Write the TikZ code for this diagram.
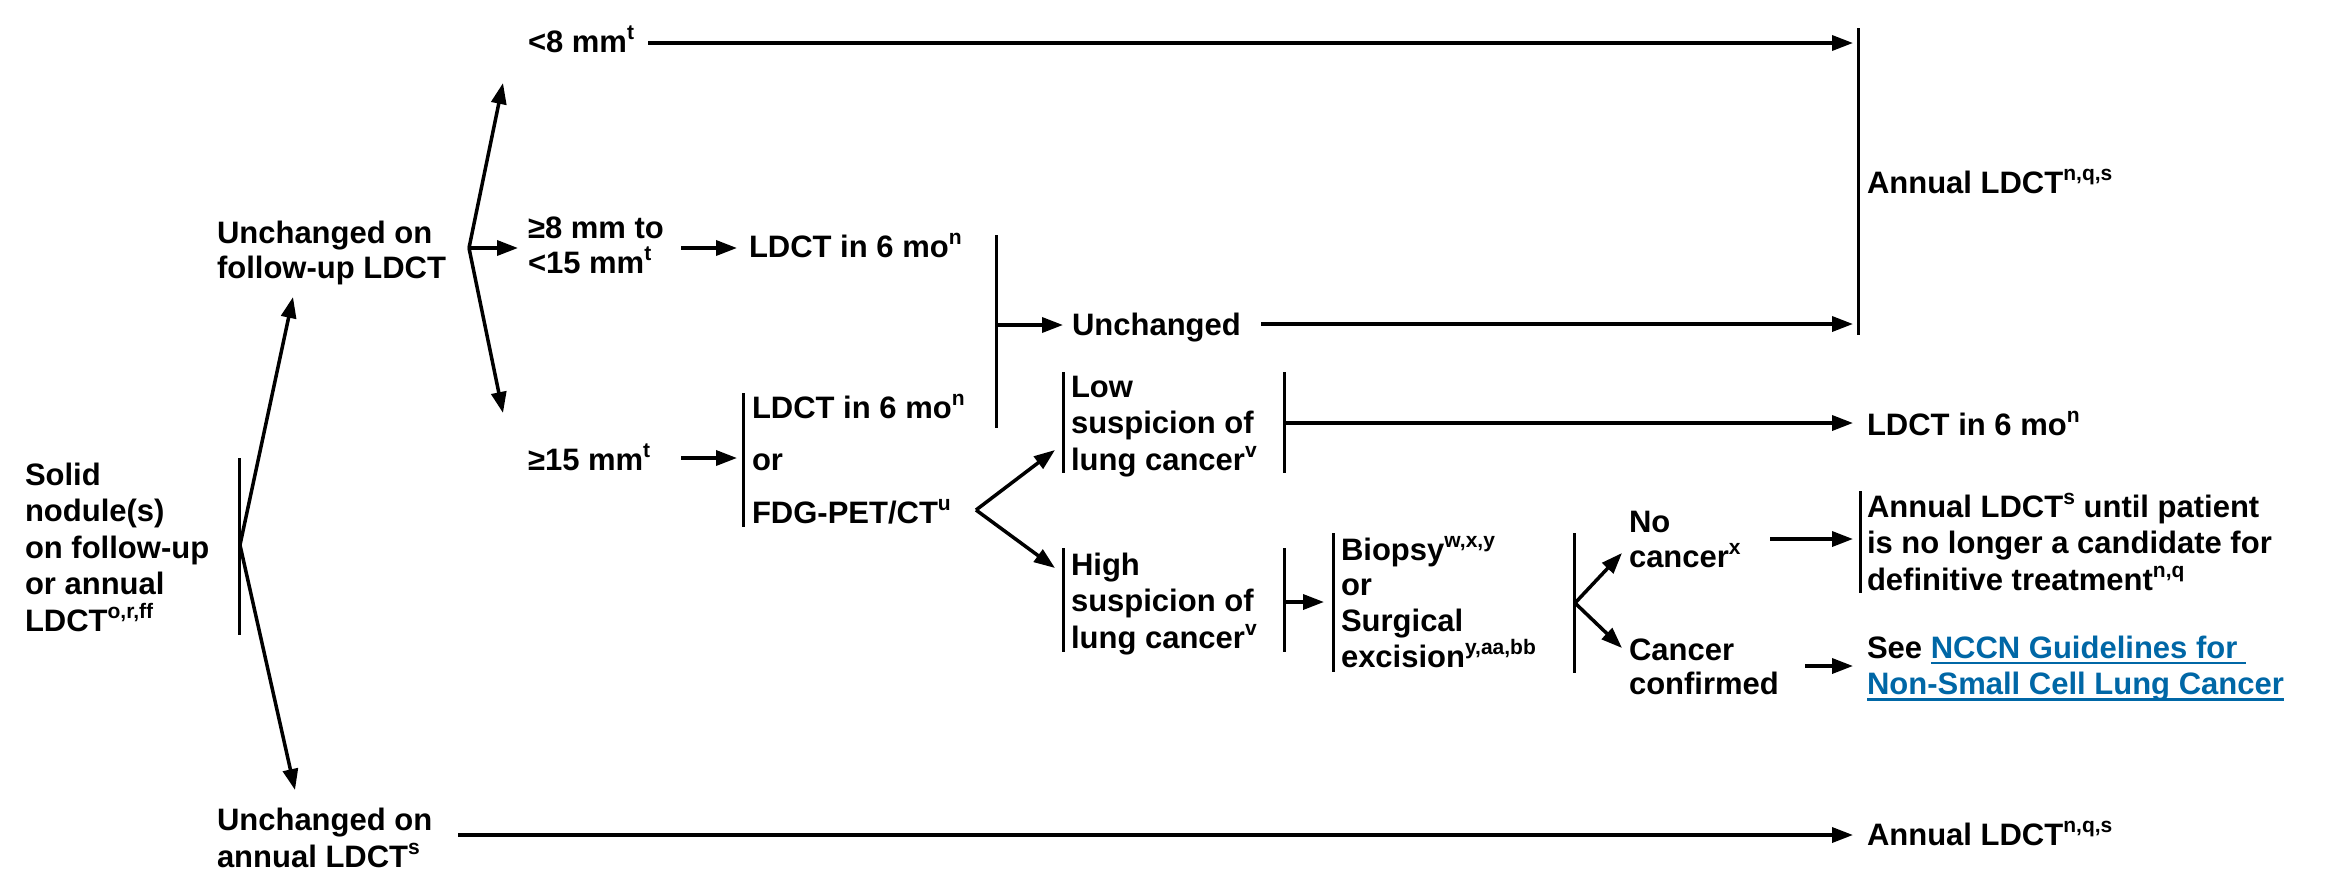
\documentclass[tikz,border=0pt]{standalone}
\usepackage{fontspec}
\setmainfont{Liberation Sans}
\usetikzlibrary{arrows.meta}
\definecolor{nccnblue}{RGB}{0,103,166}
\newcommand\fs{\fontsize{31}{36.5}\selectfont\bfseries}
\newcommand\sups[1]{\smash{\raisebox{13pt}{\fontsize{21}{21}\selectfont #1}}}
\newcommand\lnk[1]{\setbox0\hbox{#1}\rlap{\rule[-6pt]{\wd0}{2.5pt}}\box0}
\newcommand\tl[1]{\begin{tabular}[t]{@{}l@{}}#1\end{tabular}}
\begin{document}
\begin{tikzpicture}[x=1pt,y=-1pt,
  txt/.style={anchor=base west,inner sep=0pt,outer sep=0pt,font=\fs},
  bar/.style={line width=3pt},
  arr/.style={line width=3.5pt,-{Triangle[length=21pt,width=15pt]}},
  ln/.style={line width=3.5pt}]
\useasboundingbox (0,0) rectangle (2334,889);

% text nodes
\node[txt] (solid) at (25,485) {\tl{Solid\\nodule(s)\\on follow-up\\or annual\\LDCT\sups{o,r,ff}}};
\node[txt] (ufl) at (217,243) {\fontsize{31}{35}\selectfont\tl{Unchanged on\\follow-up LDCT}};
\node[txt] (lt8) at (528,52) {<8 mm\sups{t}};
\node[txt] (b815) at (528,238) {\fontsize{31}{35}\selectfont\tl{≥8 mm to\\<15 mm\sups{t}}};
\node[txt] (ge15) at (528,470) {≥15 mm\sups{t}};
\node[txt] (ldcta) at (749,257) {LDCT in 6 mo\sups{n}};
\node[txt] (unch) at (1072,335) {Unchanged};
\node[txt] (ann1) at (1867,193) {Annual LDCT\sups{n,q,s}};
\node[txt] (opt) at (752,418) {\tl{LDCT in 6 mo\sups{n}\\[16pt]or\\[16pt]FDG-PET/CT\sups{u}}};
\node[txt] (low) at (1071,397) {\tl{Low\\suspicion of\\lung cancer\sups{v}}};
\node[txt] (high) at (1071,575) {\tl{High\\suspicion of\\lung cancer\sups{v}}};
\node[txt] (biop) at (1341,560) {\fontsize{31}{35.7}\selectfont\tl{Biopsy\sups{w,x,y}\\or\\Surgical\\excision\sups{y,aa,bb}}};
\node[txt] (nocan) at (1629,532) {\fontsize{31}{35}\selectfont\tl{No\\cancer\sups{x}}};
\node[txt] (canc) at (1629,660) {\fontsize{31}{34}\selectfont\tl{Cancer\\confirmed}};
\node[txt] (ldctb) at (1867,435) {LDCT in 6 mo\sups{n}};
\node[txt] (ann2) at (1867,517) {\tl{Annual LDCT\sups{s} until patient\\is no longer a candidate for\\definitive treatment\sups{n,q}}};
\node[txt] (see) at (1867,658) {\tl{See {\color{nccnblue}\lnk{NCCN Guidelines for\ }}\\{\color{nccnblue}\lnk{Non-Small Cell Lung Cancer}}}};
\node[txt] (uan) at (217,830) {\fontsize{31}{37}\selectfont\tl{Unchanged on\\annual LDCT\sups{s}}};
\node[txt] (ann3) at (1867,845) {Annual LDCT\sups{n,q,s}};

% bars
\draw[bar] (239,458) -- (239,635);
\draw[bar] (996,235) -- (996,428);
\draw[bar] (743,393) -- (743,527);
\draw[bar] (1063,372) -- (1063,473);
\draw[bar] (1284,372) -- (1284,473);
\draw[bar] (1063,548) -- (1063,652);
\draw[bar] (1284,548) -- (1284,652);
\draw[bar] (1333,533) -- (1333,672);
\draw[bar] (1574,533) -- (1574,673);
\draw[bar] (1858,28) -- (1858,335);
\draw[bar] (1860,491) -- (1860,593);

% coordinates
\coordinate (f1) at (240,545);
\coordinate (f1u) at (293,297);
\coordinate (f1d) at (295,790);
\coordinate (f2) at (469,248);
\coordinate (f2u) at (503,83);
\coordinate (f2r) at (518,248);
\coordinate (f2d) at (503,413);
\coordinate (a1s) at (648,43);
\coordinate (a1e) at (1853,43);
\coordinate (a2s) at (681,248);
\coordinate (a2e) at (737,248);
\coordinate (a3s) at (996,325);
\coordinate (a3e) at (1063,325);
\coordinate (a4s) at (1261,324);
\coordinate (a4e) at (1853,324);
\coordinate (a5s) at (681,458);
\coordinate (a5e) at (737,458);
\coordinate (f3) at (976,510);
\coordinate (f3u) at (1055,450);
\coordinate (f3d) at (1055,568);
\coordinate (a6s) at (1284,423);
\coordinate (a6e) at (1853,423);
\coordinate (a7s) at (1284,602);
\coordinate (a7e) at (1324,602);
\coordinate (f4) at (1575,603);
\coordinate (f4u) at (1622,553);
\coordinate (f4d) at (1622,648);
\coordinate (a8s) at (1770,539);
\coordinate (a8e) at (1853,539);
\coordinate (a9s) at (1805,666);
\coordinate (a9e) at (1853,666);
\coordinate (a10s) at (458,835);
\coordinate (a10e) at (1853,835);

% arrows
\draw[arr] (f1) -- (f1u);
\draw[arr] (f1) -- (f1d);
\draw[arr] (f2) -- (f2u);
\draw[arr] (f2) -- (f2r);
\draw[arr] (f2) -- (f2d);
\draw[arr] (a1s) -- (a1e);
\draw[arr] (a2s) -- (a2e);
\draw[arr] (a3s) -- (a3e);
\draw[arr] (a4s) -- (a4e);
\draw[arr] (a5s) -- (a5e);
\draw[arr] (f3) -- (f3u);
\draw[arr] (f3) -- (f3d);
\draw[arr] (a6s) -- (a6e);
\draw[arr] (a7s) -- (a7e);
\draw[arr] (f4) -- (f4u);
\draw[arr] (f4) -- (f4d);
\draw[arr] (a8s) -- (a8e);
\draw[arr] (a9s) -- (a9e);
\draw[arr] (a10s) -- (a10e);
\end{tikzpicture}
\end{document}
